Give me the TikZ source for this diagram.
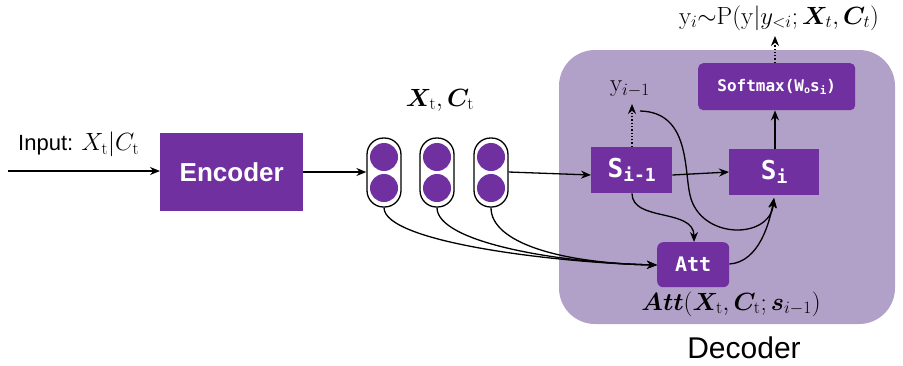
\documentclass[tikz,border=0pt]{standalone}
\usepackage{amsmath,bm}
\usepackage[no-math]{fontspec}
\setmainfont{Liberation Sans}
\setmonofont{DejaVu Sans Mono}
\usetikzlibrary{arrows.meta}
\definecolor{dpurple}{HTML}{7030A0}
\definecolor{lpurple}{HTML}{B1A0C7}
\tikzset{
  box/.style={fill=dpurple,text=white,inner sep=0pt,anchor=north west},
  capsule/.style={draw=black,line width=1.3pt,fill=white,rounded corners=16.5pt,minimum width=34pt,minimum height=69pt,inner sep=0pt},
  dot/.style={circle,fill=dpurple,minimum size=28pt,inner sep=0pt},
  arr/.style={-{Stealth[length=10pt,width=8pt]},line width=1.3pt},
  dotarr/.style={arr,dotted,line width=1.4pt},
  lbl/.style={inner sep=0pt}
}
\newcommand{\fs}[1]{\fontsize{#1}{#1}\selectfont}
\begin{document}
\begin{tikzpicture}[x=1pt,y=-1pt]
\useasboundingbox (0,0) rectangle (903,365);
% decoder background
\fill[lpurple,rounded corners=36pt] (559,50) rectangle (895,324);
\node[lbl] (dectext) at (744,348) {\fs{30}Decoder};
% encoder
\node[box,minimum width=143pt,minimum height=78pt] (enc) at (160,133) {\fs{26}\bfseries Encoder};
\coordinate (in) at (8,171);
\node[lbl,anchor=south west] (inlbl) at (18,157) {\fs{22}Input: \fs{24}$X_{\mathrm{t}}|C_{\mathrm{t}}$};
\draw[arr] (in) -- (enc.west|-in);
% capsules
\foreach \i/\x in {1/384,2/437,3/491}{
  \node[capsule] (cap\i) at (\x,172.5) {};
  \node[dot] (ca\i) at (\x,157) {};
  \node[dot] (cb\i) at (\x,188) {};
}
\node[lbl] (xc) at (440,100) {\fs{24}$\bm{X}_{\mathrm{t}},\bm{C}_{\mathrm{t}}$};
\draw[arr] (enc.east|-0,172) -- (cap1.west|-0,172);
% decoder boxes
\node[box,minimum width=81pt,minimum height=46pt] (sim) at (591,147) {\fs{26}\ttfamily\bfseries S\raisebox{-4pt}{\fs{18}i-1}};
\node[box,minimum width=90pt,minimum height=46pt] (si) at (729,149) {\fs{26}\ttfamily\bfseries S\raisebox{-4pt}{\fs{18}i}};
\node[box,rounded corners=5pt,minimum width=157pt,minimum height=47pt] (soft) at (698,63) {\fs{16}\ttfamily\bfseries Softmax(W\raisebox{-2pt}{\fs{10}o}s\raisebox{-3pt}{\fs{11}i})};
\node[box,rounded corners=6pt,minimum width=72pt,minimum height=45pt] (att) at (657,242) {\fs{20}\ttfamily\bfseries Att};
\node[lbl] (attlbl) at (731,304) {\fs{23}$\bm{Att}(\bm{X}_{\mathrm{t}},\bm{C}_{\mathrm{t}};\bm{s}_{i-1})$};
\node[lbl] (yim) at (630,89) {\fs{25}$\mathrm{y}_{i-1}$};
\node[lbl] (top) at (779,18) {\fs{24}$\mathrm{y}_i{\sim}\mathrm{P}(\mathrm{y}|y_{<i};\bm{X}_t,\bm{C}_t)$};
% connectors
\draw[arr] (cap3.east|-0,172) -- (sim.west|-0,175);
\draw[arr] (sim.east|-0,175) -- (si.west|-0,172);
\draw[arr] (si.north-|775,0) -- (soft.south-|775,0);
\draw[dotarr] (soft.north-|775,0) -- (775,36) coordinate (topend);
\draw[dotarr] (sim.north-|632,0) -- (632,104) coordinate (yend);
\coordinate (ystart) at (640,111);
\draw[arr] (ystart) .. controls (690,112) and (684,170) .. (690,195) .. controls (700,240) and (770,240) .. (774,198);
\draw[arr] (sim.south-|632,0) .. controls (632,222) and (694,208) .. (att.north-|694,0);
\draw[arr] (att.east|-0,264) .. controls (760,262) and (770,220) .. (774,198);
\foreach \i in {1,2,3}{
  \draw[arr] (cap\i.south) .. controls ([yshift=-35pt]cap\i.south) and (560,263) .. (att.west|-0,265);
}
\end{tikzpicture}
\end{document}
